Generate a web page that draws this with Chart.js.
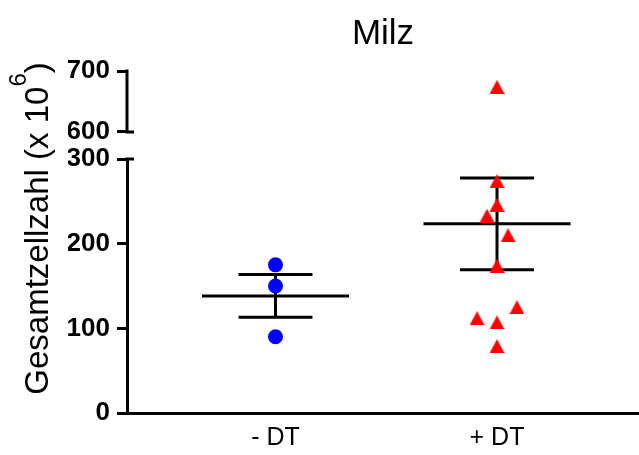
<!DOCTYPE html>
<html>
<head>
<meta charset="utf-8">
<title>Milz</title>
<script src="https://cdn.jsdelivr.net/npm/chart.js@4/dist/chart.umd.min.js"></script>
<style>
  html, body { margin: 0; padding: 0; background: #fff; }
  #wrap { width: 639px; height: 455px; }
</style>
</head>
<body>
<div id="wrap"><canvas id="c" width="639" height="455"></canvas></div>
<script>
// Total spleen cell counts (x 10^6) per animal
const groups = ['- DT', '+ DT'];
const minusDT = [175, 150, 90];
const plusDT = [674, 274, 246, 233, 210, 174, 125, 112, 107, 79];
// horizontal spread of overlapping +DT points (in group units)
const plusJitter = [0, 0, 0, -0.045, 0.05, 0, 0.09, -0.09, 0, 0];

// broken y axis: lower segment and upper segment
const lowTicks = [0, 100, 200, 300];
const highTicks = [600, 700];
const breakValue = 600;

const FONT = "'Liberation Sans', Arial, Helvetica, sans-serif";
const MEAN_HALF = 0.332;
const CAP_HALF = 0.167;

function meanSem(v) {
  const n = v.length;
  const m = v.reduce((a, b) => a + b, 0) / n;
  const sd = Math.sqrt(v.reduce((a, b) => a + (b - m) * (b - m), 0) / (n - 1));
  return { m, sem: sd / Math.sqrt(n) };
}

// red triangle marker
const tri = document.createElement('canvas');
tri.width = 15; tri.height = 14;
(function () {
  const g = tri.getContext('2d');
  g.fillStyle = '#FF0000';
  g.beginPath();
  g.moveTo(7.5, 0); g.lineTo(15, 14); g.lineTo(0, 14);
  g.closePath(); g.fill();
})();

function segment(pts) {
  return {
    data: pts, yAxisID: 'yLow', showLine: true, borderColor: '#000',
    borderWidth: 3, pointRadius: 0, borderCapStyle: 'butt', clip: false
  };
}
function summaryLines(values, xc) {
  const { m, sem } = meanSem(values);
  return [
    segment([{ x: xc - MEAN_HALF, y: m }, { x: xc + MEAN_HALF, y: m }]),
    segment([{ x: xc - CAP_HALF, y: m + sem }, { x: xc + CAP_HALF, y: m + sem }]),
    segment([{ x: xc - CAP_HALF, y: m - sem }, { x: xc + CAP_HALF, y: m - sem }]),
    segment([{ x: xc, y: m - sem }, { x: xc, y: m + sem }])
  ];
}

const plusPts = plusDT.map((v, i) => ({ x: 2 + plusJitter[i], y: v }));

const datasets = [
  {
    data: minusDT.map(v => ({ x: 1, y: v })), yAxisID: 'yLow',
    pointStyle: 'circle', pointRadius: 7.5, pointBackgroundColor: '#0000FF',
    pointBorderWidth: 0, clip: false
  },
  {
    data: plusPts.filter(p => p.y < breakValue), yAxisID: 'yLow',
    pointStyle: tri, pointRadius: 7, pointBorderWidth: 0, clip: false
  },
  {
    data: plusPts.filter(p => p.y >= breakValue), yAxisID: 'yHigh',
    pointStyle: tri, pointRadius: 7, pointBorderWidth: 0, clip: false
  },
  ...summaryLines(minusDT, 1),
  ...summaryLines(plusDT, 2)
];

const yTickFont = { family: FONT, size: 26, weight: 'bold' };

// draws the upper axis segment, the break stubs and the y title
const axisDecor = {
  id: 'axisDecor',
  afterDraw(chart) {
    const ctx = chart.ctx;
    const hi = chart.scales.yHigh, lo = chart.scales.yLow;
    const x = chart.chartArea.left;
    const y700 = hi.getPixelForValue(highTicks[highTicks.length - 1]);
    const y600 = hi.getPixelForValue(highTicks[0]);
    const y300 = lo.getPixelForValue(lowTicks[lowTicks.length - 1]);
    ctx.save();
    ctx.strokeStyle = '#000';
    ctx.lineWidth = 3;
    ctx.lineCap = 'butt';
    ctx.beginPath();
    ctx.moveTo(x, y700 - 1.5); ctx.lineTo(x, y600 + 1.5);
    ctx.moveTo(x - 1.5, y600); ctx.lineTo(x + 7, y600);
    ctx.moveTo(x - 1.5, y300); ctx.lineTo(x + 7, y300);
    ctx.stroke();

    // y-axis title with superscript exponent
    const main = 'Gesamtzellzahl (x 10';
    const sup = '6';
    const close = ')';
    const mainFont = '33px ' + FONT;
    const supFont = '24px ' + FONT;
    ctx.fillStyle = '#000';
    ctx.textBaseline = 'alphabetic';
    ctx.textAlign = 'left';
    ctx.font = mainFont;
    const wMain = ctx.measureText(main).width;
    const wClose = ctx.measureText(close).width;
    ctx.font = supFont;
    const wSup = ctx.measureText(sup).width;
    const total = wMain + wSup + wClose;
    const cy = 228.5;
    ctx.translate(48, cy + total / 2);
    ctx.rotate(-Math.PI / 2);
    ctx.font = mainFont;
    ctx.fillText(main, 0, 0);
    ctx.font = supFont;
    ctx.fillText(sup, wMain, -22);
    ctx.font = mainFont;
    ctx.fillText(close, wMain + wSup, 0);
    ctx.restore();
  }
};

new Chart(document.getElementById('c'), {
  type: 'scatter',
  data: { datasets },
  options: {
    responsive: false,
    animation: false,
    events: [],
    layout: { autoPadding: false, padding: { left: 68, right: 0, top: 0, bottom: 2 } },
    plugins: {
      legend: { display: false },
      tooltip: { enabled: false },
      title: {
        display: true, text: 'Milz', fullSize: false, color: '#000',
        font: { family: FONT, size: 35, weight: 'normal' },
        padding: { top: 13, bottom: 16 }
      }
    },
    scales: {
      x: {
        type: 'linear', position: 'bottom', min: 0.3296, max: 2.641,
        afterBuildTicks: s => { s.ticks = groups.map((g, i) => ({ value: i + 1 })); },
        afterFit: s => { s.height = 40; s.paddingLeft = 0; s.paddingRight = 0; },
        ticks: {
          autoSkip: false, padding: 10, color: '#000', maxRotation: 0,
          font: { family: FONT, size: 25 },
          callback: v => groups[Math.round(v) - 1]
        },
        grid: { display: false, drawTicks: false },
        border: { display: true, color: '#000', width: 3 }
      },
      yLow: {
        type: 'linear', position: 'left', stack: 'y', stackWeight: 254,
        min: lowTicks[0], max: lowTicks[lowTicks.length - 1],
        afterBuildTicks: s => { s.ticks = lowTicks.map(v => ({ value: v })); },
        afterFit: s => { s.width = 59; },
        ticks: { autoSkip: false, padding: 7, color: '#000', font: yTickFont },
        grid: { display: true, drawOnChartArea: false, drawTicks: true, tickLength: 10, color: '#000', lineWidth: 3 },
        border: { display: true, color: '#000', width: 3 }
      },
      yHigh: {
        type: 'linear', position: 'left', stack: 'y', stackWeight: 88,
        min: 555.7, max: highTicks[highTicks.length - 1],
        afterBuildTicks: s => { s.ticks = highTicks.map(v => ({ value: v })); },
        afterFit: s => { s.width = 59; },
        ticks: { autoSkip: false, padding: 7, color: '#000', font: yTickFont },
        grid: { display: true, drawOnChartArea: false, drawTicks: true, tickLength: 10, color: '#000', lineWidth: 3 },
        border: { display: false }
      }
    }
  },
  plugins: [axisDecor]
});
</script>
</body>
</html>
